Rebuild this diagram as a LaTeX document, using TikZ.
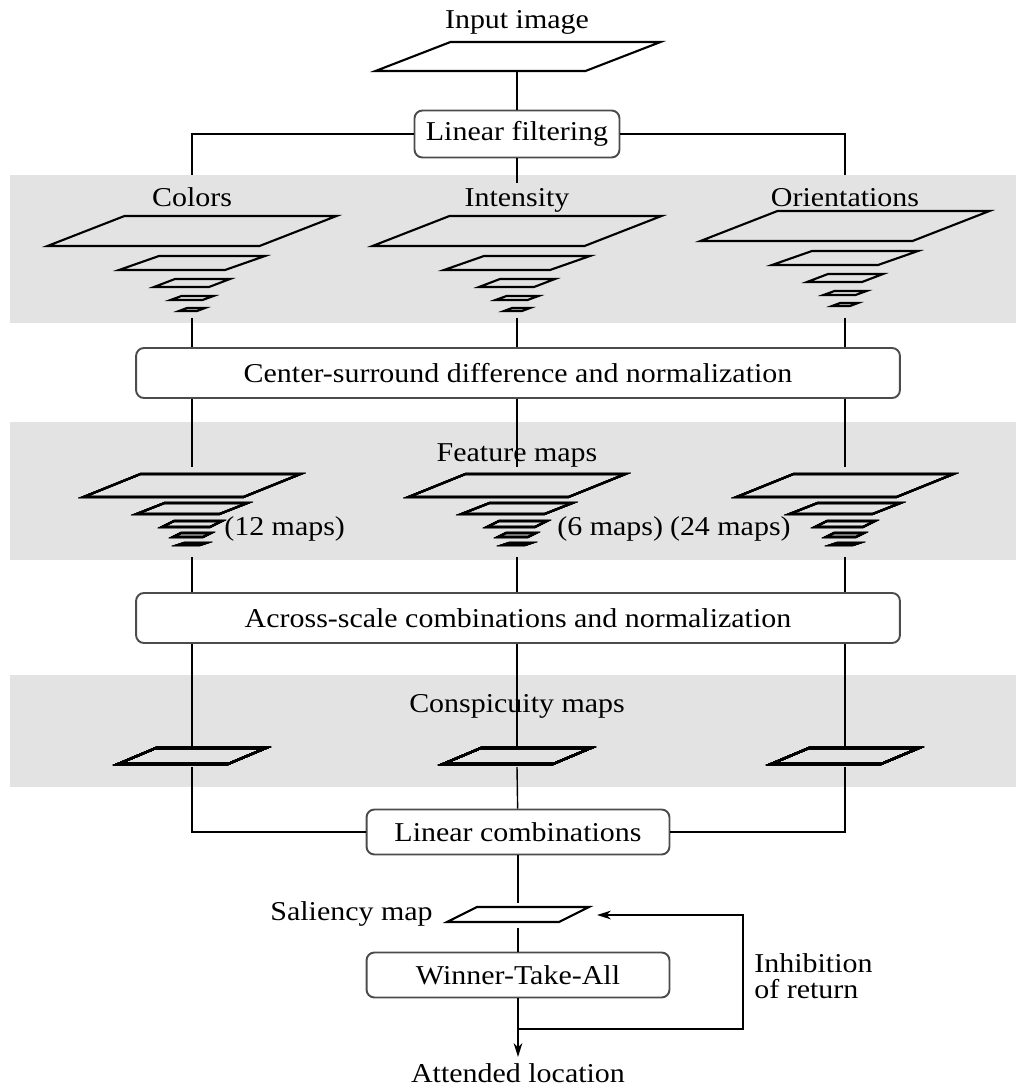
\documentclass[tikz,border=0pt]{standalone}
\usepackage{fontspec}
\setmainfont[FakeStretch=1.1]{Liberation Serif}
\usetikzlibrary{arrows.meta}
\newcommand{\bandcol}{black!11}
\newcommand{\boxcol}{black!70}
% one map: centre x, top y, width, height, shear
\newcommand{\mapslab}[5]{\draw[slab] ({#1-(#3)/2+(#5)/2},{#2}) -- ++(#3,0) -- ++(-#5,#4) -- ++(-#3,0) -- cycle;}

\begin{document}
\begin{tikzpicture}[x=0.02cm,y=-0.02cm,inner sep=0.33em,
	font=\fontsize{15.5}{14.8}\selectfont,
	slab/.style={line width=1.2pt},
	link/.style={line width=0.8pt},
	tip/.style={-{Stealth[length=8pt,width=5pt]}},
	stage/.style={draw=\boxcol,line width=1.1pt,rounded corners=4.5pt,fill=white}]
	\useasboundingbox (0,0) rectangle (1016,1087);
	\fill[\bandcol] (10,175) rectangle (1016,323);
	\fill[\bandcol] (10,422) rectangle (1016,560);
	\fill[\bandcol] (10,675) rectangle (1016,787);
	
	\node[anchor=base] (inp) at (517,29) {Input image};
	\mapslab{518}{42}{210}{29}{75}
	\coordinate (inpb) at (517,71);
	\coordinate (b1) at (0,175);
	
	\node[stage,minimum width=4.1cm,minimum height=0.94cm] (lf) at (517,134) {Linear filtering};
	\node[stage,minimum width=15.28cm,minimum height=1cm] (cs) at (518,373) {Center-surround difference and normalization};
	\node[stage,minimum width=15.28cm,minimum height=1cm] (ac) at (518,618) {Across-scale combinations and normalization};
	\node[stage,minimum width=6.06cm,minimum height=0.9cm] (lc) at (518,832) {Linear combinations};
	\node[stage,minimum width=6.06cm,minimum height=0.9cm] (wta) at (518,975) {Winner-Take-All};
	
	\node[anchor=base] (col) at (192,207) {Colors};
	\node[anchor=base] (int) at (517,207) {Intensity};
	\node[anchor=base] (ori) at (845,207) {Orientations};
	\node[anchor=base] (feat) at (517,461) {Feature maps};
	\node[anchor=base] (consp) at (517,712) {Conspicuity maps};
	\node[anchor=base west,inner sep=0] (n12) at (224,535) {(12 maps)};
	\node[anchor=base west,inner sep=0] (n6) at (557,535) {(6 maps)};
	\node[anchor=base east,inner sep=0] (n24) at (791,535) {(24 maps)};
	
	\draw[link] (inpb) -- (lf);
	\draw[link] (lf) -| (col.north |- b1);
	\draw[link] (lf) -| (ori.north |- b1);
	\draw[link] (lf) -- (int);
	
	\foreach \cx/\dy [count=\i] in {192/0,517/0,845/-5}{
		\foreach \w/\h/\s/\y in {212/30/77/216,106/14/40/256,55/8/21/279,32/4/11/296,18/3/8/308}
			\mapslab{\cx}{\y+(\dy)}{\w}{\h}{\s}
		\foreach \w/\h/\s/\y in {160/23/57/474,83/11/28/503,48/6/12/521,30/4/8/533,22/2/6/543}
			\mapslab{\cx}{\y}{\w}{\h}{\s}
		\mapslab{\cx}{748}{110}{16}{38}
		\coordinate (pa\i) at (\cx,318);
		\coordinate (fa\i) at (\cx,467);
		\coordinate (fb\i) at (\cx,557);
		\coordinate (ca\i) at (\cx,747);
		\coordinate (cb\i) at (\cx,767);
		\draw[link] (pa\i) -- (pa\i |- cs.north);
		\draw[link] (fa\i |- cs.south) -- (fa\i);
		\draw[link] (fb\i) -- (fb\i |- ac.north);
		\draw[link] (ca\i |- ac.south) -- (ca\i);
	}
	\draw[link] (cb1) |- (lc);
	\draw[link] (cb2) -- (lc);
	\draw[link] (cb3) |- (lc);
	
	% saliency and output
	\mapslab{518}{907}{112}{15}{30}
	\node[anchor=base east,inner sep=0] (sal) at (433,920) {Saliency map};
	\coordinate (salt) at (518,903);
	\coordinate (salb) at (518,928);
	\coordinate (sale) at (597,915);
	\coordinate (fbk) at (518,1029);
	\coordinate (fbc) at (743,1029);
	\node[anchor=base] (att) at (518,1082) {Attended location};
	\node[anchor=west,align=left,inner sep=0] (ior) at (754,976) {Inhibition\\of return};
	
	\draw[link] (lc) -- (salt);
	\draw[link] (salb) -- (wta);
	\draw[link,tip] (wta) -- (att);
	\draw[link,tip] (fbk) -- (fbc) |- (sale);
\end{tikzpicture}
\end{document}
